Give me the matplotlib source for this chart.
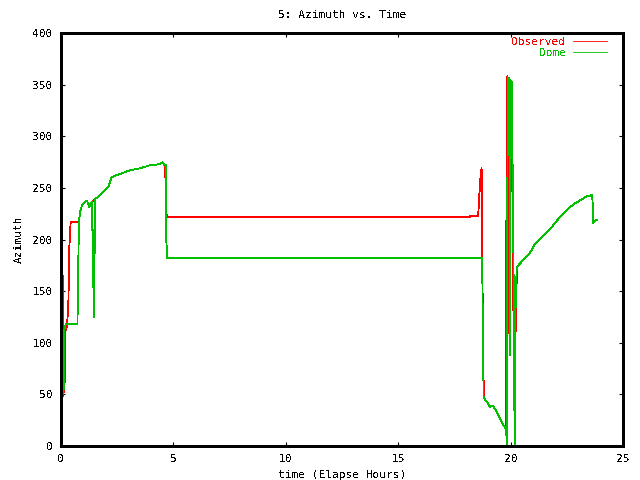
import matplotlib
matplotlib.use("Agg")
import matplotlib.pyplot as plt

# Observed azimuth (red)
obs_time = [0.00, 0.05, 0.06, 0.07, 0.08, 0.10, 0.17, 0.20, 0.27, 0.33, 0.37, 0.43, 0.77,
            0.81, 0.85, 0.92, 0.99, 1.11, 1.17, 1.22, 1.26, 1.30, 1.36, 1.54,
            1.59, 1.73, 1.88, 2.11, 2.18, 2.25, 2.48, 2.70, 2.92, 3.14, 3.51, 3.96, 4.40, 4.52,
            4.60, 4.63, 4.65, 4.67, 4.70, 18.19, 18.20, 18.56, 18.58, 18.63, 18.68, 18.71,
            18.73, 18.78, 18.82, 18.83, 18.94, 19.08, 19.15, 19.23, 19.38, 19.53, 19.68, 19.78,
            19.80, 19.82, 19.86, 19.88, 19.89, 20.03, 20.06, 20.08, 20.10, 20.12, 20.15, 20.20,
            20.24, 20.28, 20.34, 20.49, 20.64, 20.79, 20.94, 21.09, 21.31, 21.46, 21.61, 21.75,
            21.90, 22.20, 22.50, 22.79, 23.09, 23.39, 23.63, 23.66, 23.68, 23.75, 23.83]
obs_az = [223, 223, 220, 174, 90, 48, 64, 112, 116, 141, 192, 217, 217,
          219, 227, 232, 235, 237, 237, 234, 231, 235, 236, 240,
          240, 243, 246, 251, 256, 260, 262.5, 264, 266, 267.5, 269, 272, 273, 275,
          272, 272, 256, 250, 222, 222, 223, 223, 232, 250, 266, 269,
          214, 80, 46, 46, 43, 38, 39, 38.7, 33, 26.8, 20, 17,
          67, 272, 359, 109, 357, 352, 278, 256, 148, 132, 141, 90,
          127, 172, 175, 178.5, 181.8, 185, 190, 196, 200.5, 204, 207, 210,
          214, 222, 228.6, 234, 238, 242, 243, 232, 216, 218, 219]

# Dome azimuth (green)
dome_time = [0.00, 0.06, 0.07, 0.09, 0.12, 0.14, 0.18, 0.21, 0.73, 0.75, 0.78,
             0.81, 0.85, 0.92, 0.99, 1.11, 1.17, 1.22, 1.26, 1.30, 1.36,
             1.38, 1.39, 1.43, 1.44, 1.46, 1.48, 1.50, 1.53,
             1.59, 1.73, 1.88, 2.11, 2.18, 2.25, 2.48, 2.70, 2.92, 3.14, 3.51, 3.96, 4.40, 4.52,
             4.60, 4.66, 4.67, 4.73, 18.74, 18.75, 18.80,
             18.83, 18.94, 19.08, 19.15, 19.23, 19.38, 19.53, 19.68, 19.78,
             19.81, 19.83, 19.84, 19.86, 19.90, 19.95, 19.96, 19.97, 20.05, 20.08, 20.10,
             20.14, 20.18, 20.20, 20.22, 20.27,
             20.34, 20.49, 20.64, 20.79, 20.94, 21.09, 21.31, 21.46, 21.61, 21.75,
             21.90, 22.20, 22.50, 22.79, 23.09, 23.39, 23.63, 23.66, 23.68, 23.75, 23.83]
dome_az = [223, 223, 93, 51, 56, 112, 115, 118, 118, 141, 193,
           219, 227, 232, 235, 237, 237, 234, 231, 235, 236,
           236, 209, 209, 154, 209, 125, 210, 240,
           240, 243, 246, 251, 256, 260, 262.5, 264, 266, 267.5, 269, 272, 273, 275,
           272, 272, 204, 182, 182, 148, 46.5,
           46, 43, 38, 39, 38.7, 33, 26.8, 20, 17,
           14, 0, 88, 266, 357, 356, 88, 355, 353, 280, 264,
           148, 0, 44, 132, 172,
           175, 178.5, 181.8, 185, 190, 196, 200.5, 204, 207, 210,
           214, 222, 228.6, 234, 238, 242, 243, 232, 216, 218, 219]

x_ticks = [0, 5, 10, 15, 20, 25]
y_ticks = [0, 50, 100, 150, 200, 250, 300, 350, 400]

plt.rcParams['font.family'] = ['DejaVu Sans Mono']
plt.rcParams['font.size'] = 8
plt.rcParams['text.antialiased'] = False

fig, ax = plt.subplots(figsize=(6.4, 4.8), dpi=100)
fig.subplots_adjust(left=0.0953, right=0.9734, bottom=0.0708, top=0.931)

# gnuplot-like crisp thin lines
ax.plot(obs_time, obs_az, color='#ff0000', linewidth=0.6, label='Observed', antialiased=False)
ax.plot(dome_time, dome_az, color='#00c000', linewidth=0.6, label='Dome', antialiased=False)

ax.set_xlim(0, 25)
ax.set_ylim(0, 400)
ax.set_xticks(x_ticks)
ax.set_yticks(y_ticks)
ax.tick_params(direction='in', length=3, width=0.8, top=True, right=True, pad=6)
for s in ax.spines.values():
    s.set_linewidth(0.8)
    s.set_antialiased(False)

ax.set_title('5: Azimuth vs. Time', fontsize=8, pad=11)
ax.set_xlabel('time (Elapse Hours)', labelpad=4)
ax.set_ylabel('Azimuth', labelpad=6)

ax.legend(loc='upper right', bbox_to_anchor=(0.9715, 0.9915), frameon=False,
          markerfirst=False, labelcolor='linecolor', handlelength=3.1,
          handletextpad=0.6, borderaxespad=0, borderpad=0, labelspacing=0.15)

fig.savefig('out.png', dpi=100)
